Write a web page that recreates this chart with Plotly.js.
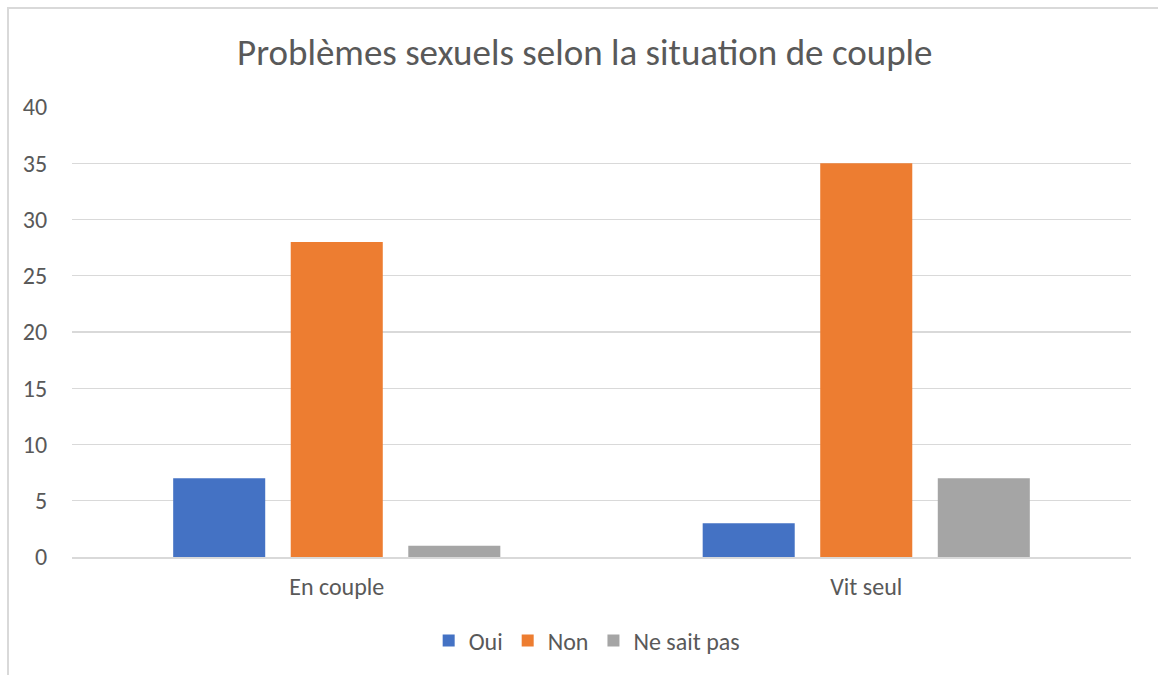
<!DOCTYPE html>
<html>
<head>
<meta charset="utf-8">
<script src="https://cdn.plot.ly/plotly-3.0.1.min.js"></script>
<style>
html,body{margin:0;padding:0;background:#fff;}
#wrap{position:relative;width:1158px;height:675px;overflow:hidden;}
#chart{position:absolute;left:0;top:0;width:1158px;height:675px;}
#frame{position:absolute;left:7px;top:7px;width:1200px;height:700px;border-top:2px solid #d9d9d9;border-left:2px solid #d9d9d9;pointer-events:none;}
</style>
</head>
<body>
<div id="wrap"><div id="chart"></div><div id="frame"></div></div>
<script>
const categories = ["En couple", "Vit seul"];
const seriesNames = ["Oui", "Non", "Ne sait pas"];
const oui = [7, 3];
const non = [28, 35];
const neSaitPas = [1, 7];
const yTicks = [0, 5, 10, 15, 20, 25, 30, 35, 40];

const colors = ["#4472c4", "#ed7d31", "#a5a5a5"];
const values = [oui, non, neSaitPas];
const font = "Calibri, Carlito, 'Open Sans', sans-serif";

const traces = seriesNames.map((n, i) => ({
  type: "bar", name: n, x: categories, y: values[i],
  marker: {color: colors[i]}, hoverinfo: "x+y+name"
}));

const layout = {
  width: 1158, height: 675,
  margin: {l: 72, r: 27, t: 107, b: 118},
  paper_bgcolor: "#fff", plot_bgcolor: "#fff",
  font: {family: font, color: "#595959", size: 24},
  title: {text: "Problèmes sexuels selon la situation de couple", font: {size: 37, color: "#595959", family: font},
          x: 0.505, xanchor: "center", y: 1 - 52/675, yanchor: "middle", yref: "container"},
  barmode: "group", bargap: 0.334, bargroupgap: 0.217,
  xaxis: {showgrid: false, showline: true, linecolor: "#d9d9d9", linewidth: 1.5,
          ticks: "outside", ticklen: 8, tickcolor: "rgba(0,0,0,0)", tickfont: {size: 24, color: "#595959"}},
  yaxis: {range: [0, 40], tickvals: yTicks, showgrid: true, gridcolor: "#d9d9d9", gridwidth: 1.3,
          zeroline: false, showline: false, ticks: "outside", ticklen: 19, tickcolor: "rgba(0,0,0,0)",
          tickfont: {size: 24, color: "#595959"}},
  legend: {orientation: "h", x: 0.486, xanchor: "center", y: 1 - 641/675, yanchor: "middle", yref: "container",
           font: {size: 24, color: "#595959"}, itemwidth: 30, traceorder: "normal"},
  showlegend: true
};
Plotly.newPlot("chart", traces, layout, {displayModeBar: false, staticPlot: true});
</script>
</body>
</html>
